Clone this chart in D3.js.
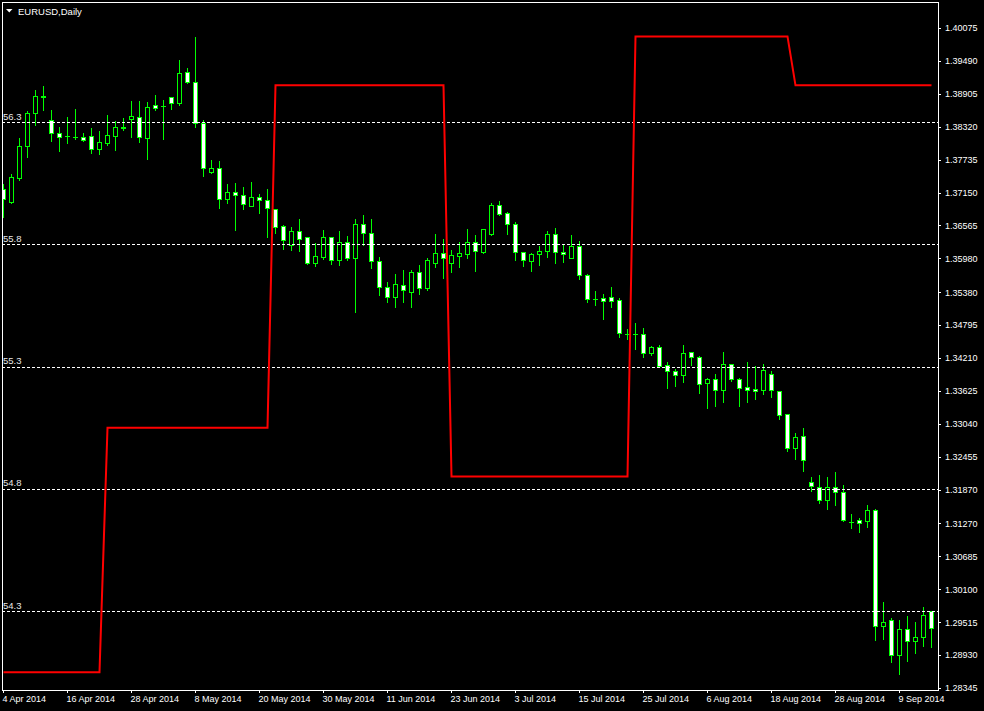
<!DOCTYPE html>
<html><head><meta charset="utf-8">
<script src="https://cdn.jsdelivr.net/npm/d3@7"></script>
<style>html,body{margin:0;padding:0;background:#000;overflow:hidden}</style>
</head><body>
<svg id="c" width="984" height="711"></svg>
<script>
// ---- data ----
const dates = [
"2014-04-04","2014-04-07","2014-04-08","2014-04-09","2014-04-10","2014-04-11","2014-04-14","2014-04-15","2014-04-16","2014-04-17","2014-04-18","2014-04-21","2014-04-22","2014-04-23","2014-04-24","2014-04-25","2014-04-28","2014-04-29","2014-04-30",
"2014-05-01","2014-05-02","2014-05-05","2014-05-06","2014-05-07","2014-05-08","2014-05-09","2014-05-12","2014-05-13","2014-05-14","2014-05-15","2014-05-16","2014-05-19","2014-05-20","2014-05-21","2014-05-22","2014-05-23","2014-05-26","2014-05-27","2014-05-28","2014-05-29","2014-05-30",
"2014-06-02","2014-06-03","2014-06-04","2014-06-05","2014-06-06","2014-06-09","2014-06-10","2014-06-11","2014-06-12","2014-06-13","2014-06-16","2014-06-17","2014-06-18","2014-06-19","2014-06-20","2014-06-23","2014-06-24","2014-06-25","2014-06-26","2014-06-27","2014-06-30",
"2014-07-01","2014-07-02","2014-07-03","2014-07-04","2014-07-07","2014-07-08","2014-07-09","2014-07-10","2014-07-11","2014-07-14","2014-07-15","2014-07-16","2014-07-17","2014-07-18","2014-07-21","2014-07-22","2014-07-23","2014-07-24","2014-07-25","2014-07-28","2014-07-29","2014-07-30","2014-07-31",
"2014-08-01","2014-08-04","2014-08-05","2014-08-06","2014-08-07","2014-08-08","2014-08-11","2014-08-12","2014-08-13","2014-08-14","2014-08-15","2014-08-18","2014-08-19","2014-08-20","2014-08-21","2014-08-22","2014-08-25","2014-08-26","2014-08-27","2014-08-28","2014-08-29",
"2014-09-01","2014-09-02","2014-09-03","2014-09-04","2014-09-05","2014-09-08","2014-09-09","2014-09-10","2014-09-11","2014-09-12","2014-09-15"];

const open = [1.3721,1.3699,1.3741,1.3797,1.3856,1.3886,1.3844,1.3820,1.3815,1.3814,1.3814,1.3815,1.3792,1.3804,1.3816,1.3830,1.3845,1.3850,1.3812,1.3870,
1.3868,1.3884,1.3875,1.3929,1.3911,1.3839,1.3752,1.3758,1.3703,1.3716,1.3710,1.3692,1.3708,1.3701,1.3686,1.3655,1.3622,1.3647,1.3636,1.3590,
1.3601,1.3636,1.3596,1.3628,1.3598,1.3660,1.3643,1.3593,1.3547,1.3530,1.3550,1.3539,1.3573,1.3546,1.3590,1.3607,1.3590,1.3603,1.3605,1.3628,
1.3609,1.3642,1.3693,1.3678,1.3659,1.3609,1.3594,1.3605,1.3612,1.3641,1.3609,1.3598,1.3620,1.3568,1.3525,1.3528,1.3529,1.3524,1.3464,1.3463,
1.3463,1.3430,1.3440,1.3408,1.3398,1.3390,1.3431,1.3423,1.3376,1.3383,1.3364,1.3410,1.3383,1.3369,1.3366,1.3365,1.3392,1.3363,1.3321,1.3261,
1.3282,1.3200,1.3192,1.3168,1.3192,1.3182,1.3129,1.3133,1.3132,1.3150,1.2944,1.2955,1.2894,1.2939,1.2918,1.2925,1.2971];
const high = [1.3732,1.3749,1.3813,1.3862,1.3899,1.3906,1.3864,1.3833,1.3851,1.3865,1.3823,1.3832,1.3826,1.3855,1.3844,1.3849,1.3880,1.3880,1.3878,1.3890,
1.3881,1.3887,1.3952,1.3938,1.3993,1.3845,1.3775,1.3773,1.3732,1.3734,1.3727,1.3736,1.3714,1.3723,1.3687,1.3659,1.3656,1.3670,1.3637,1.3627,
1.3650,1.3638,1.3649,1.3640,1.3670,1.3677,1.3670,1.3602,1.3558,1.3572,1.3579,1.3579,1.3588,1.3600,1.3643,1.3634,1.3615,1.3629,1.3652,1.3641,
1.3652,1.3698,1.3702,1.3682,1.3665,1.3612,1.3609,1.3622,1.3649,1.3653,1.3625,1.3641,1.3630,1.3572,1.3542,1.3537,1.3549,1.3529,1.3474,1.3485,
1.3476,1.3444,1.3446,1.3416,1.3403,1.3446,1.3434,1.3426,1.3387,1.3394,1.3433,1.3412,1.3387,1.3416,1.3409,1.3412,1.3400,1.3365,1.3324,1.3290,
1.3298,1.3211,1.3215,1.3211,1.3221,1.3197,1.3145,1.3138,1.3162,1.3154,1.2989,1.2961,1.2958,1.2964,1.2954,1.2980,1.2973];
const low = [1.3672,1.3696,1.3737,1.3779,1.3835,1.3862,1.3807,1.3789,1.3804,1.3811,1.3807,1.3786,1.3784,1.3800,1.3791,1.3826,1.3813,1.3805,1.3775,1.3862,
1.3811,1.3864,1.3871,1.3909,1.3832,1.3745,1.3749,1.3688,1.3697,1.3649,1.3685,1.3691,1.3678,1.3636,1.3644,1.3615,1.3613,1.3612,1.3588,1.3585,
1.3597,1.3588,1.3587,1.3595,1.3503,1.3621,1.3581,1.3533,1.3521,1.3512,1.3521,1.3512,1.3535,1.3541,1.3583,1.3563,1.3574,1.3583,1.3599,1.3576,
1.3608,1.3640,1.3675,1.3642,1.3595,1.3585,1.3576,1.3586,1.3601,1.3589,1.3592,1.3598,1.3562,1.3521,1.3515,1.3490,1.3512,1.3459,1.3455,1.3437,
1.3422,1.3426,1.3405,1.3367,1.3372,1.3378,1.3409,1.3358,1.3333,1.3336,1.3343,1.3381,1.3336,1.3342,1.3348,1.3357,1.3352,1.3313,1.3255,1.3242,
1.3221,1.3184,1.3164,1.3153,1.3160,1.3132,1.3119,1.3111,1.3121,1.2920,1.2922,1.2881,1.2860,1.2883,1.2897,1.2910,1.2908];
const close = [1.3704,1.3742,1.3797,1.3856,1.3886,1.3884,1.3820,1.3814,1.3815,1.3814,1.3809,1.3792,1.3805,1.3817,1.3831,1.3832,1.3851,1.3813,1.3867,1.3866,
1.3868,1.3875,1.3927,1.3911,1.3839,1.3758,1.3758,1.3703,1.3716,1.3710,1.3694,1.3708,1.3701,1.3687,1.3654,1.3630,1.3646,1.3633,1.3590,1.3602,
1.3636,1.3596,1.3627,1.3598,1.3660,1.3643,1.3594,1.3548,1.3530,1.3552,1.3541,1.3573,1.3546,1.3596,1.3607,1.3599,1.3604,1.3607,1.3628,1.3611,
1.3650,1.3693,1.3677,1.3659,1.3610,1.3595,1.3605,1.3612,1.3641,1.3609,1.3605,1.3620,1.3568,1.3525,1.3525,1.3523,1.3523,1.3465,1.3464,1.3463,
1.3429,1.3441,1.3407,1.3398,1.3390,1.3430,1.3422,1.3375,1.3384,1.3364,1.3410,1.3384,1.3368,1.3364,1.3363,1.3399,1.3364,1.3319,1.3261,1.3280,
1.3239,1.3193,1.3168,1.3192,1.3182,1.3133,1.3129,1.3128,1.3150,1.2944,1.2951,1.2894,1.2939,1.2918,1.2925,1.2964,1.2941];

// red indicator line (one value per bar)
const indicator = [54.05,54.05,54.05,54.05,54.05,54.05,54.05,54.05,54.05,54.05,54.05,54.05,54.05,
55.05,55.05,55.05,55.05,55.05,55.05,55.05,55.05,55.05,55.05,55.05,55.05,55.05,55.05,55.05,55.05,55.05,55.05,55.05,55.05,55.05,
56.45,56.45,56.45,56.45,56.45,56.45,56.45,56.45,56.45,56.45,56.45,56.45,56.45,56.45,56.45,56.45,56.45,56.45,56.45,56.45,56.45,56.45,
54.85,54.85,54.85,54.85,54.85,54.85,54.85,54.85,54.85,54.85,54.85,54.85,54.85,54.85,54.85,54.85,54.85,54.85,54.85,54.85,54.85,54.85,54.85,
56.65,56.65,56.65,56.65,56.65,56.65,56.65,56.65,56.65,56.65,56.65,56.65,56.65,56.65,56.65,56.65,56.65,56.65,56.65,56.65,
56.45,56.45,56.45,56.45,56.45,56.45,56.45,56.45,56.45,56.45,56.45,56.45,56.45,56.45,56.45,56.45,56.45,56.45];

const levels = [56.3, 55.8, 55.3, 54.8, 54.3];
const levelLabels = ["56.3","55.8","55.3","54.8","54.3"];

const priceTicks = [1.40075,1.39490,1.38905,1.38320,1.37735,1.37150,1.36565,1.35980,1.35380,1.34795,1.34210,
1.33625,1.33040,1.32455,1.31870,1.31270,1.30685,1.30100,1.29515,1.28930,1.28345];

const dateTicks = ["2014-04-04","2014-04-16","2014-04-28","2014-05-08","2014-05-20","2014-05-30","2014-06-11","2014-06-23",
"2014-07-03","2014-07-15","2014-07-25","2014-08-06","2014-08-18","2014-08-28","2014-09-09"];
const dateTickLabels = ["4 Apr 2014","16 Apr 2014","28 Apr 2014","8 May 2014","20 May 2014","30 May 2014","11 Jun 2014","23 Jun 2014",
"3 Jul 2014","15 Jul 2014","25 Jul 2014","6 Aug 2014","18 Aug 2014","28 Aug 2014","9 Sep 2014"];

const title = "EURUSD,Daily";

// ---- drawing ----
const FONT = "'Liberation Sans', Arial, sans-serif";
const svg = d3.select('#c');
svg.append('rect').attr('width',984).attr('height',711).attr('fill','#000');

const x = d3.scalePoint().domain(dates).range([3.5, 931.5]);
const y = d3.scaleLinear().domain([1.28345, 1.40075]).range([688, 28]);
const yi = d3.scaleLinear().domain([54.3, 56.3]).range([611, 122]);
const snap = v => Math.round(v) + 0.5;

svg.append('clipPath').attr('id','plot').append('rect')
  .attr('x',3).attr('y',3).attr('width',935).attr('height',687);

const plot = svg.append('g').attr('clip-path','url(#plot)').attr('shape-rendering','crispEdges');

const bars = dates.map((d,i)=>({d, o:open[i], h:high[i], l:low[i], c:close[i]}));
const cg = plot.append('g');
const g = cg.selectAll('g').data(bars).join('g');
g.append('line')
  .attr('x1', b=>x(b.d)).attr('x2', b=>x(b.d))
  .attr('y1', b=>snap(y(b.h))).attr('y2', b=>snap(y(b.l)))
  .attr('stroke','#00ff00').attr('stroke-width',1);
g.each(function(b){
  const sel = d3.select(this);
  const cx = x(b.d);
  const t = Math.round(y(Math.max(b.o,b.c)));
  const bt = Math.round(y(Math.min(b.o,b.c)));
  if (bt - t < 1) {
    sel.append('line').attr('x1',cx-2.5).attr('x2',cx+2.5).attr('y1',t+0.5).attr('y2',t+0.5)
      .attr('stroke','#00ff00');
  } else {
    sel.append('rect').attr('x',cx-2).attr('y',t+0.5).attr('width',4).attr('height',bt-t)
      .attr('fill', b.c > b.o ? '#000' : '#fff').attr('stroke','#00ff00').attr('stroke-width',1);
  }
});

// levels
const lv = plot.append('g');
lv.selectAll('line').data(levels).join('line')
  .attr('x1',2).attr('x2',938).attr('y1',d=>snap(yi(d))).attr('y2',d=>snap(yi(d)))
  .attr('stroke','#fff').attr('stroke-dasharray','3,2');
svg.append('g').selectAll('text').data(levels).join('text')
  .attr('x',3).attr('y',d=>yi(d)-2.5)
  .attr('fill','#e8e8e8').attr('font-family',FONT).attr('font-size','9.5px')
  .text((d,i)=>levelLabels[i]);

// red indicator line
plot.append('path').datum(indicator)
  .attr('d', d3.line().x((v,i)=>x(dates[i])).y(v=>yi(v)))
  .attr('fill','none').attr('stroke','#ff0000').attr('stroke-width',2)
  .attr('shape-rendering','auto');

// frame
svg.append('rect').attr('x',2.5).attr('y',2.5).attr('width',936).attr('height',688)
  .attr('fill','none').attr('stroke','#fff').attr('shape-rendering','crispEdges');

// price axis
const ya = svg.append('g').attr('transform','translate(938,0)')
  .call(d3.axisRight(y).tickValues(priceTicks).tickFormat(d3.format('.5f')).tickSize(3).tickSizeOuter(0).tickPadding(4));
ya.select('.domain').remove();
ya.selectAll('line').attr('stroke','#fff').attr('shape-rendering','crispEdges');
ya.selectAll('text').attr('fill','#fff').attr('font-family',FONT).attr('font-size','9px');

// date axis
const xa = svg.append('g').attr('transform','translate(0,690)')
  .call(d3.axisBottom(x).tickValues(dateTicks).tickFormat((d,i)=>dateTickLabels[i]).tickSize(3).tickSizeOuter(0).tickPadding(3).offset(0));
xa.select('.domain').remove();
xa.selectAll('line').attr('stroke','#fff').attr('shape-rendering','crispEdges');
xa.selectAll('text').attr('fill','#fff').attr('font-family',FONT).attr('font-size','9px')
  .attr('text-anchor','start').attr('x',-1);

// title
svg.append('path').attr('d','M6,9 L12.5,9 L9.25,12.5 Z').attr('fill','#fff');
svg.append('text').attr('x',18).attr('y',15).attr('fill','#fff')
  .attr('font-family',FONT).attr('font-size','9.5px').text(title);
</script>
</body></html>
